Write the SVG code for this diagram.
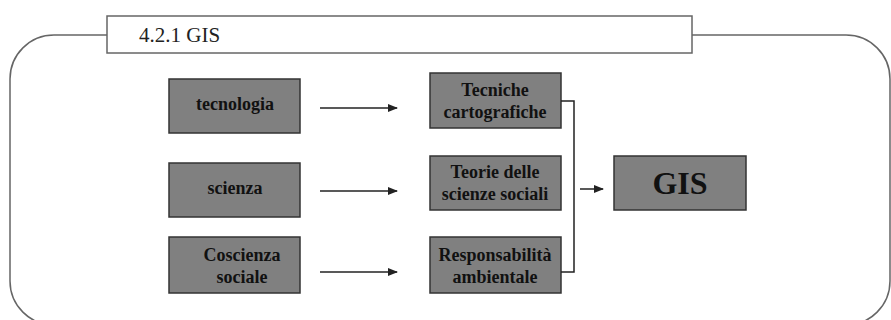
<svg xmlns="http://www.w3.org/2000/svg" width="891" height="320" viewBox="0 0 891 320">
<defs>
<style>
.frame{fill:none;stroke:#666;stroke-width:1.5}
.title{fill:#fff;stroke:#666;stroke-width:1.5}
.box{fill:#808080;stroke:#333;stroke-width:1.5}
.t{font-family:"Liberation Serif","Times New Roman",serif;font-weight:bold;font-size:18px;fill:#111;text-anchor:middle}
.big{font-family:"Liberation Serif","Times New Roman",serif;font-weight:bold;font-size:32px;fill:#111;text-anchor:middle}
.ttl{font-family:"Liberation Serif","Times New Roman",serif;font-size:21px;fill:#222}
.ln{fill:none;stroke:#222;stroke-width:1.5}
</style>
<marker id="ah" markerWidth="10" markerHeight="8" refX="9" refY="4" orient="auto" markerUnits="userSpaceOnUse">
<path d="M0,0 L10,4 L0,8 Z" fill="#222"/>
</marker>
</defs>
<rect width="891" height="320" fill="#fff"/>
<g id="frame">
<rect class="frame" x="10" y="35" width="880" height="290" rx="44" ry="44"/>
<rect class="title" x="107" y="16" width="585" height="37"/>
<text class="ttl" x="139" y="42">4.2.1 GIS</text>
</g>
<g id="n-tecnologia">
<rect class="box" x="169" y="79" width="131" height="54"/>
<text class="t" x="235" y="110">tecnologia</text>
</g>
<g id="n-scienza">
<rect class="box" x="169" y="163" width="131" height="54"/>
<text class="t" x="235" y="194">scienza</text>
</g>
<g id="n-coscienza">
<rect class="box" x="169" y="237" width="131" height="56"/>
<text class="t" x="242" y="261">Coscienza</text>
<text class="t" x="242" y="283">sociale</text>
</g>
<g id="n-tecniche">
<rect class="box" x="430" y="73" width="131" height="55"/>
<text class="t" x="495" y="96">Tecniche</text>
<text class="t" x="495" y="118">cartografiche</text>
</g>
<g id="n-teorie">
<rect class="box" x="430" y="156" width="131" height="54"/>
<text class="t" x="495" y="178">Teorie delle</text>
<text class="t" x="495" y="200">scienze sociali</text>
</g>
<g id="n-responsabilita">
<rect class="box" x="430" y="237" width="131" height="56"/>
<text class="t" x="495" y="261">Responsabilità</text>
<text class="t" x="495" y="283">ambientale</text>
</g>
<g id="n-gis">
<rect class="box" x="614" y="156" width="132" height="54"/>
<text class="big" x="680" y="194">GIS</text>
</g>
<g id="connectors">
<line class="ln" x1="320" y1="108" x2="397" y2="108" marker-end="url(#ah)"/>
<line class="ln" x1="320" y1="191" x2="397" y2="191" marker-end="url(#ah)"/>
<line class="ln" x1="320" y1="272" x2="397" y2="272" marker-end="url(#ah)"/>
<polyline class="ln" points="561,101 574,101 574,272 561,272"/>
<line class="ln" x1="580" y1="189" x2="603" y2="189" marker-end="url(#ah)"/>
</g>
</svg>
